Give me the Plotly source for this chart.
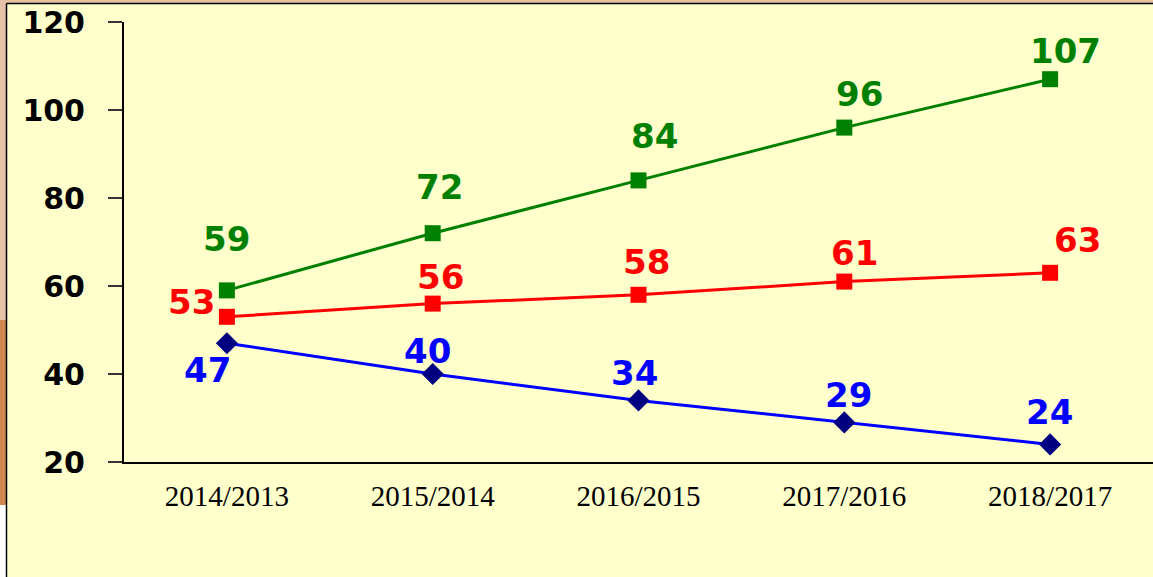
import plotly.graph_objects as go

categories = ["2014/2013", "2015/2014", "2016/2015", "2017/2016", "2018/2017"]
green_values = [59, 72, 84, 96, 107]
red_values = [53, 56, 58, 61, 63]
blue_values = [47, 40, 34, 29, 24]
y_ticks = [20, 40, 60, 80, 100, 120]

# label offsets in pixels (style only)
green_off = [(0, 51), (7, 46), (16, 44), (15, 34), (15, 28)]
red_off = [(-35, 15), (8, 27), (8, 33), (10, 29), (27, 33)]
blue_off = [(-19, -27), (-5, 23), (-4, 27), (4, 27), (-1, 32)]

W, H = 1153, 577
L, R, T, B = 124, 0, 22, 115

fig = go.Figure()
series = [
    (green_values, "#008000", "#008000", "square", 16, green_off),
    (red_values, "#FF0000", "#FF0000", "square", 16, red_off),
    (blue_values, "#0000FF", "#000080", "diamond", 17, blue_off),
]
annotations = []
for vals, lc, mc, sym, ms, offs in series:
    fig.add_trace(go.Scatter(
        x=categories, y=vals, mode="lines+markers",
        line=dict(color=lc, width=3),
        marker=dict(symbol=sym, size=ms, color=mc),
        showlegend=False, cliponaxis=False,
    ))
    for c, v, (dx, dy) in zip(categories, vals, offs):
        annotations.append(dict(
            x=c, y=v, xref="x", yref="y", text=str(v), showarrow=False,
            xshift=dx, yshift=dy,
            font=dict(family="DejaVu Sans", size=34, color=lc, weight="bold"),
        ))

fig.update_layout(
    width=W, height=H,
    margin=dict(l=L, r=R, t=T, b=B, pad=0),
    paper_bgcolor="#FFFFCC", plot_bgcolor="#FFFFCC",
    annotations=annotations,
    xaxis=dict(
        type="category", range=[-0.5, 4.5], showgrid=False, zeroline=False,
        showline=True, linecolor="#000000", linewidth=2, ticks="",
        tickfont=dict(family="Liberation Serif", size=29, color="#000000"),
        ticklabelstandoff=7,
    ),
    yaxis=dict(
        range=[20, 120], tickvals=y_ticks, showgrid=False, zeroline=False,
        showline=True, linecolor="#000000", linewidth=2,
        ticks="outside", ticklen=14, tickcolor="#333333", tickwidth=1.5,
        tickfont=dict(family="DejaVu Sans", size=30, color="#000000", weight="bold"),
        ticklabelstandoff=17,
    ),
)

# slide-frame decorations (positions in paper coordinates)
def px_x(p):
    return (p - L) / (W - L - R)

def px_y(p):
    return (H - B - p) / (H - T - B)

shapes = [
    dict(type="rect", xref="paper", yref="paper", x0=px_x(0), x1=px_x(W), y0=px_y(0), y1=px_y(3),
         fillcolor="#E6C2A2", line=dict(width=0), layer="below"),
    dict(type="rect", xref="paper", yref="paper", x0=px_x(0), x1=px_x(6), y0=px_y(0), y1=px_y(320),
         fillcolor="#E6C2A6", line=dict(width=0), layer="below"),
    dict(type="rect", xref="paper", yref="paper", x0=px_x(0), x1=px_x(6), y0=px_y(320), y1=px_y(505),
         fillcolor="#D0884E", line=dict(width=0), layer="below"),
    dict(type="rect", xref="paper", yref="paper", x0=px_x(0), x1=px_x(6), y0=px_y(505), y1=px_y(H),
         fillcolor="#FFFFFF", line=dict(width=0), layer="below"),
    dict(type="line", xref="paper", yref="paper", x0=px_x(6.5), x1=px_x(W), y0=px_y(3.5), y1=px_y(3.5),
         line=dict(color="#000000", width=1.5)),
    dict(type="line", xref="paper", yref="paper", x0=px_x(6.5), x1=px_x(6.5), y0=px_y(3.5), y1=px_y(H),
         line=dict(color="#000000", width=1.5)),
]
fig.update_layout(shapes=shapes)

fig.write_html(
    "out.html",
    config={"displayModeBar": False},
    post_script="document.body.style.margin='0px';document.body.style.overflow='hidden';",
)
